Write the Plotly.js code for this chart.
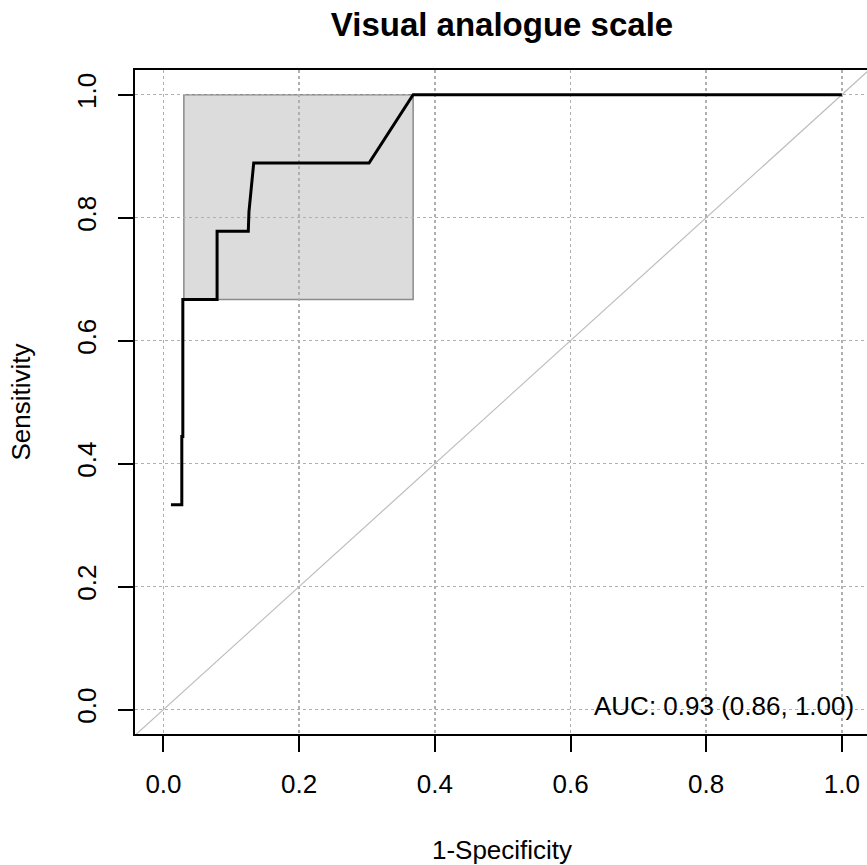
<!DOCTYPE html>
<html>
<head>
<meta charset="utf-8">
<script src="https://cdn.plot.ly/plotly-3.0.1.min.js"></script>
<style>
html, body { margin: 0; padding: 0; overflow: hidden; background: #ffffff; }
#chart { width: 871px; height: 865px; }
</style>
</head>
<body>
<div id="chart"></div>
<script>
// ROC curve (1-Specificity vs Sensitivity)
const fpr = [0.011, 0.027, 0.027, 0.0285, 0.0285, 0.079, 0.079, 0.125, 0.126, 0.128, 0.130, 0.133, 0.303, 0.368, 1.0];
const tpr = [0.333, 0.333, 0.444, 0.444, 0.667, 0.667, 0.778, 0.778, 0.810, 0.835, 0.860, 0.889, 0.889, 1.0, 1.0];

// Confidence interval box (1-Specificity range, Sensitivity range)
const ciFpr = [0.030, 0.368];
const ciSens = [0.667, 1.0];

// Chance diagonal
const diagX = [-0.05, 1.05];
const diagY = [-0.05, 1.05];

// Ticks
const tickVals = [0, 0.2, 0.4, 0.6, 0.8, 1.0];
const tickText = ["0.0", "0.2", "0.4", "0.6", "0.8", "1.0"];

// Labels
const chartTitle = "Visual analogue scale";
const xTitle = "1-Specificity";
const yTitle = "Sensitivity";
const aucText = "AUC: 0.93 (0.86, 1.00)";
const aucPos = [0.632, 0.006];

const FONT = "'Liberation Sans', Arial, sans-serif";

const traces = [
  {
    x: diagX, y: diagY, type: "scatter", mode: "lines",
    line: { color: "#bdbdbd", width: 1.2 },
    hoverinfo: "skip", showlegend: false
  },
  {
    x: fpr, y: tpr, type: "scatter", mode: "lines",
    line: { color: "#000000", width: 3 },
    hoverinfo: "skip", showlegend: false
  }
];

const axisCommon = {
  tickvals: tickVals,
  ticktext: tickText,
  ticks: "outside",
  tickwidth: 2,
  tickcolor: "#000000",
  showline: true,
  linewidth: 2,
  linecolor: "#000000",
  mirror: true,
  showgrid: true,
  gridcolor: "#b0b0b0",
  griddash: "dot",
  gridwidth: 1.5,
  zeroline: false,
  tickfont: { family: FONT, size: 26, color: "#000000" },
  fixedrange: true
};

const layout = {
  width: 871,
  height: 865,
  margin: { l: 135, r: 2, t: 70, b: 131 },
  paper_bgcolor: "#ffffff",
  plot_bgcolor: "#ffffff",
  font: { family: FONT, color: "#000000" },
  title: {
    text: "<b>" + chartTitle + "</b>",
    font: { family: FONT, size: 33, color: "#000000" },
    x: 0.5, xref: "paper", xanchor: "center",
    y: 1 - 24 / 865, yref: "container", yanchor: "middle"
  },
  xaxis: Object.assign({}, axisCommon, {
    range: [-0.042, 1.040],
    ticklen: 16,
    ticklabelstandoff: 10,
    title: { text: xTitle, font: { family: FONT, size: 26, color: "#000000" }, standoff: 44 }
  }),
  yaxis: Object.assign({}, axisCommon, {
    range: [-0.0398, 1.0402],
    ticklen: 15,
    tickangle: -90,
    ticklabelstandoff: 12,
    title: { text: yTitle, font: { family: FONT, size: 26, color: "#000000" }, standoff: 33 }
  }),
  shapes: [
    {
      type: "rect", xref: "x", yref: "y", layer: "below",
      x0: ciFpr[0], x1: ciFpr[1], y0: ciSens[0], y1: ciSens[1],
      fillcolor: "#dcdcdc",
      line: { color: "#8a8a8a", width: 1.5 }
    }
  ],
  annotations: [
    {
      x: aucPos[0], y: aucPos[1], xref: "x", yref: "y",
      text: aucText, showarrow: false,
      xanchor: "left", yanchor: "middle",
      font: { family: FONT, size: 26, color: "#000000" }
    }
  ],
  showlegend: false
};

Plotly.newPlot("chart", traces, layout, { displayModeBar: false, staticPlot: true });
</script>
</body>
</html>
